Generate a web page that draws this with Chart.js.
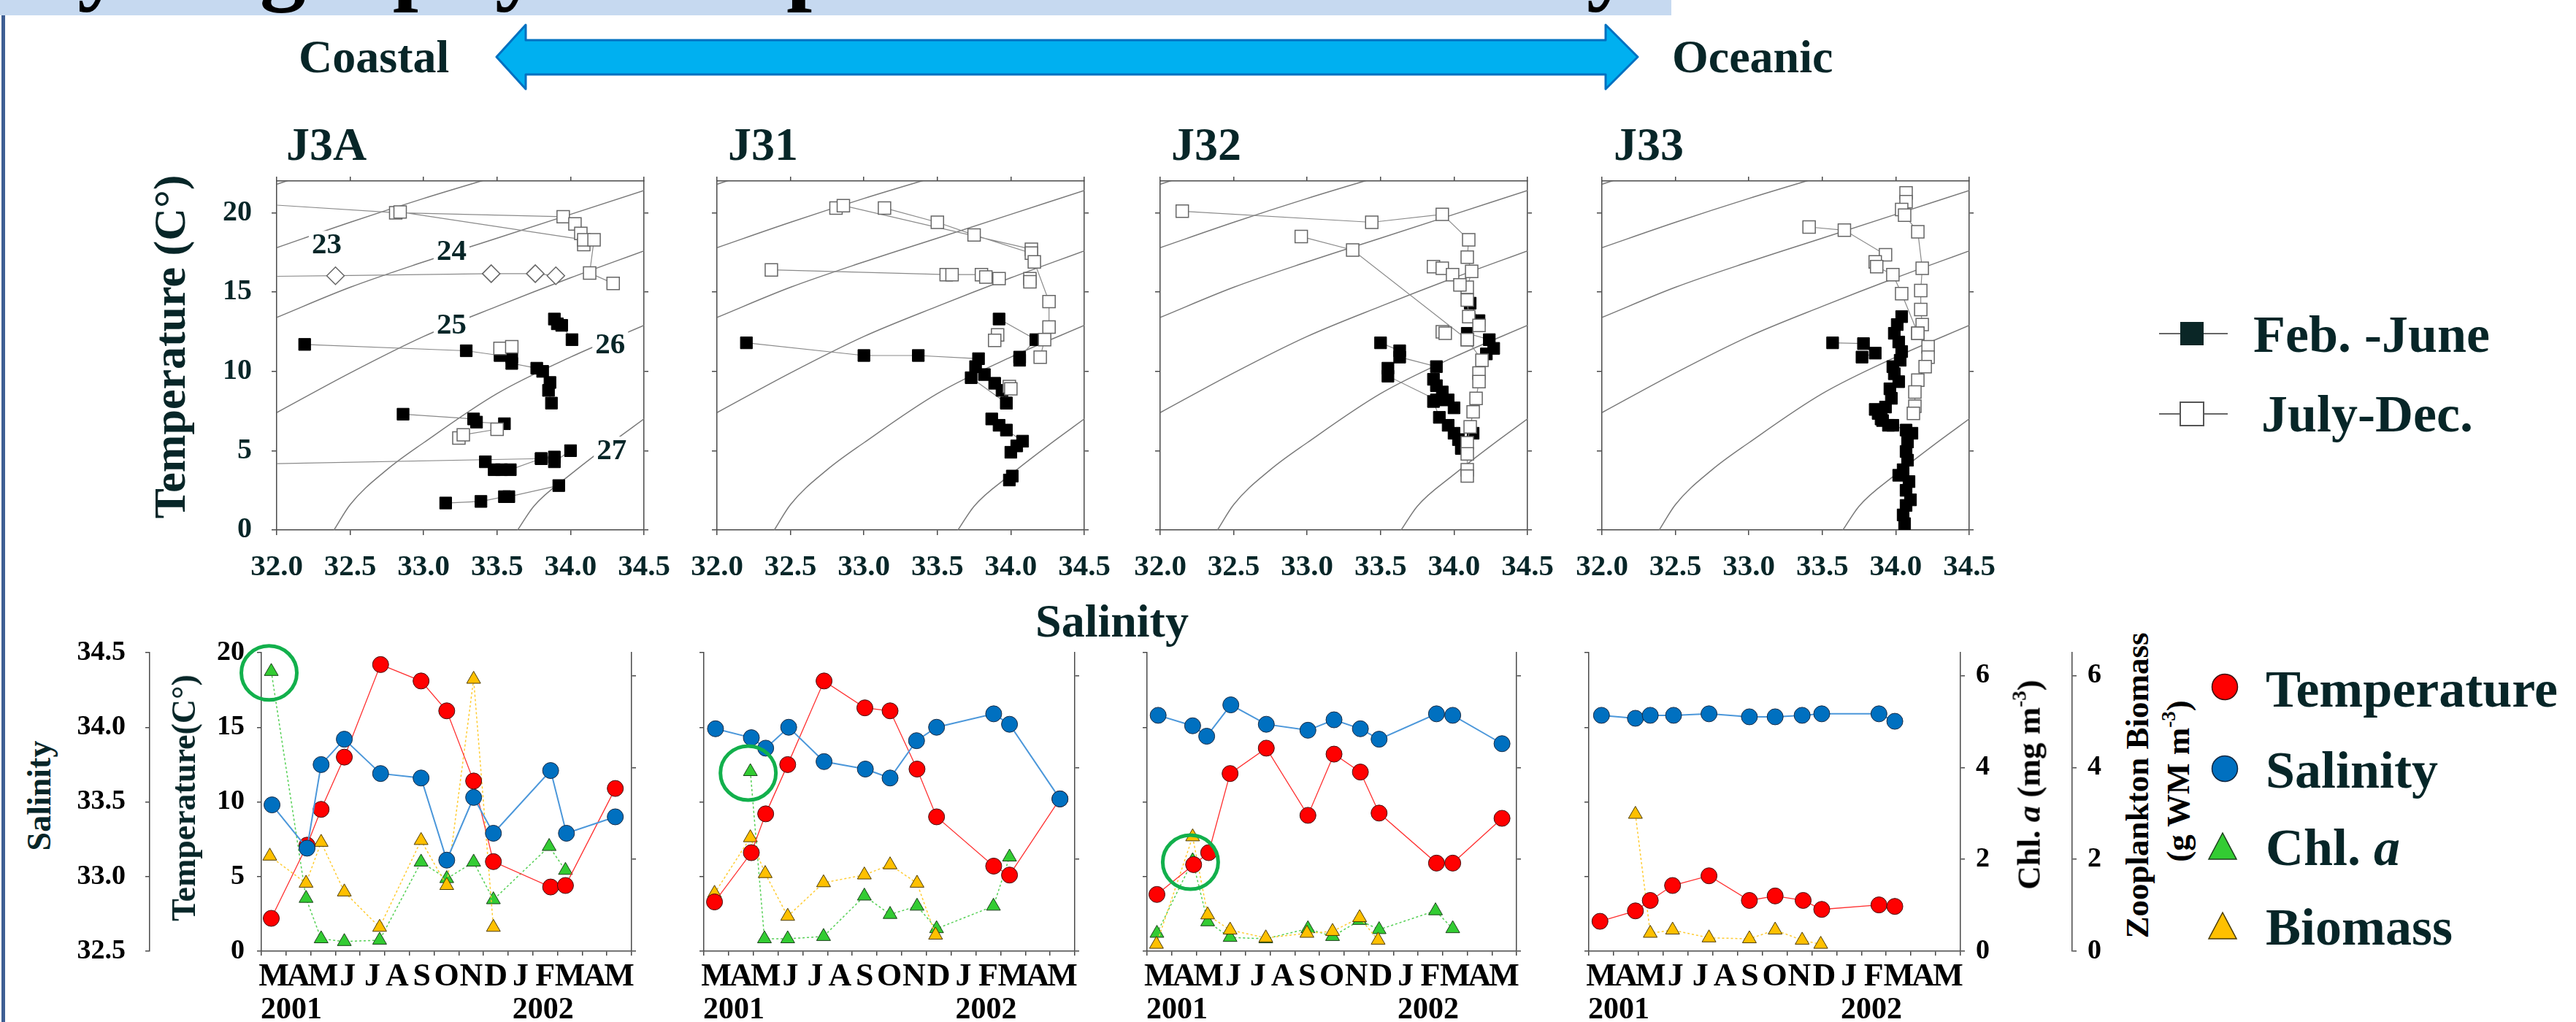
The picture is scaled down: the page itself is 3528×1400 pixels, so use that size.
<!DOCTYPE html>
<html>
<head>
<meta charset="utf-8">
<title>T-S diagrams and seasonal cycle, stations J3A-J33</title>
<script src="https://cdn.jsdelivr.net/npm/chart.js@4.4.1/dist/chart.umd.min.js"></script>
<style>
  html, body { margin: 0; padding: 0; background: #fff; }
  body { position: relative; width: 3528px; height: 1400px; overflow: hidden;
         font-family: 'Liberation Serif', 'Times New Roman', serif; font-weight: bold; color: #072628; }
  canvas { position: absolute; }
  .t { position: absolute; white-space: nowrap; line-height: 1; }
  #band { position: absolute; left: 0; top: 0; width: 2289px; height: 21px; background: #c6d9f0; overflow: hidden; }
  #edge { position: absolute; left: 2px; top: 21px; width: 5px; height: 1379px; background: #3f5f94; }
  svg { position: absolute; left: 0; top: 0; }
</style>
</head>
<body>
<div id="band"><div class="t" style="left:8px;top:-115px;font-size:126px;color:#000;word-spacing:35px">Hydrography and plankton community</div></div>
<div id="edge"></div>
<svg width="3528" height="1400">
  <polygon points="680,78 720,34 720,55 2199,55 2199,34 2243,78 2199,122 2199,102 720,102 720,122"
           fill="#00b0f0" stroke="#0070c0" stroke-width="3" stroke-linejoin="round"/>
  <line x1="2957" y1="457" x2="3051" y2="457" stroke="#666" stroke-width="2"/>
  <rect x="2986" y="441" width="32" height="32" fill="#0a2626"/>
  <line x1="2957" y1="567" x2="3051" y2="567" stroke="#666" stroke-width="2"/>
  <rect x="2986" y="551" width="32" height="32" fill="#fff" stroke="#555" stroke-width="2"/>
  <circle cx="3047" cy="941" r="17.5" fill="#ff0000" stroke="#3a1010" stroke-width="1.5"/>
  <circle cx="3047" cy="1053" r="17.5" fill="#0070c0" stroke="#10263f" stroke-width="1.5"/>
  <polygon points="3044,1141 3025,1177 3063,1177" fill="#33cc33" stroke="#1d3d1d" stroke-width="1.5"/>
  <polygon points="3044,1250 3025,1286 3063,1286" fill="#ffc000" stroke="#4a3a00" stroke-width="1.5"/>
</svg>

<script>
const FAM = "'Liberation Serif', 'Times New Roman', serif";
const INK = '#072628';
Chart.defaults.font.family = FAM;
Chart.defaults.font.weight = 'bold';

// ---------- T-S diagrams: [salinity, temperature] ----------
// sigma-t isopycnals
const iso22 = [[31.9, 21.5], [32.4, 23.0]];
const iso23 = [[32.0, 17.8], [32.5, 19.4], [33.0, 20.9], [33.5, 22.3]];
const iso24 = [[32.0, 13.4], [32.5, 15.3], [33.0, 16.9], [33.5, 18.4], [34.0, 19.9], [34.5, 21.4]];
const iso25 = [[32.0, 7.4], [32.5, 9.9], [33.0, 12.2], [33.5, 14.1], [34.0, 15.9], [34.5, 17.6]];
const iso26 = [[32.39, 0], [32.5, 1.6], [32.75, 3.8], [33.0, 5.5], [33.5, 8.6], [34.0, 10.9], [34.5, 12.9]];
const iso27 = [[33.64, 0], [33.75, 1.5], [34.0, 3.5], [34.25, 5.3], [34.5, 7.0]];
const isoLines = [iso22, iso23, iso24, iso25, iso26, iso27];
const isoLabels = [[32.34, 18.03, '23'], [33.19, 17.59, '24'], [33.19, 12.97, '25'], [34.27, 11.73, '26'], [34.28, 5.06, '27']];

const j3aFeb = [
  [[32.19, 11.7], [33.29, 11.3], [33.52, 11.0], [33.60, 10.9], [33.60, 10.5], [33.77, 10.2], [33.81, 10.0], [33.86, 9.3], [33.85, 8.8], [33.87, 8.0]],
  [[33.89, 13.3], [33.91, 13.0], [33.94, 12.9], [34.01, 12.0]],
  [[32.86, 7.3], [33.34, 7.0], [33.36, 6.8], [33.55, 6.7]],
  [[31.50, 4.1], [33.80, 4.5], [33.89, 4.6], [33.89, 4.3], [34.00, 5.0]],
  [[33.42, 4.3], [33.48, 3.8], [33.53, 3.8], [33.59, 3.8], [33.80, 4.5]],
  [[33.15, 1.7], [33.39, 1.8], [33.55, 2.1], [33.58, 2.1], [33.92, 2.8]]
];
const j3aJul = [
  [[31.80, 20.6], [32.81, 20.0], [33.95, 19.75], [34.03, 19.3], [34.07, 18.7], [34.09, 18.0]],
  [[32.84, 20.05], [34.09, 18.3], [34.16, 18.3], [34.13, 16.2], [34.29, 15.55]],
  [[33.52, 11.45], [33.60, 11.55]],
  [[33.24, 5.8], [33.27, 6.0], [33.50, 6.35]]
];
const j3aDiamond = [[[31.50, 15.95], [32.40, 16.03], [33.46, 16.16], [33.76, 16.16], [33.90, 16.03]]];

const j31Feb = [
  [[32.20, 11.8], [33.00, 11.0], [33.37, 11.0], [33.78, 10.8], [33.73, 9.6], [33.97, 8.0]],
  [[33.76, 10.3], [33.82, 9.8], [33.89, 9.25], [33.94, 8.8], [33.97, 8.0]],
  [[33.87, 7.0], [33.92, 6.6], [33.97, 6.3], [34.08, 5.6], [34.04, 5.3], [34.00, 4.9]],
  [[34.01, 3.4], [33.99, 3.15]],
  [[33.92, 13.3], [34.17, 12.0], [34.06, 10.9], [34.06, 10.7]]
];
const j31Jul = [
  [[32.81, 20.3], [32.86, 20.45], [34.14, 17.7]],
  [[33.14, 20.3], [33.50, 19.4], [33.75, 18.6], [34.14, 17.45], [34.16, 16.9], [34.26, 14.4], [34.26, 12.8], [34.23, 12.0], [34.20, 10.9]],
  [[32.37, 16.4], [33.56, 16.1], [33.60, 16.1], [33.80, 16.1], [33.83, 15.95], [33.92, 15.85]],
  [[34.13, 15.85], [34.13, 15.65]],
  [[33.91, 12.3], [33.89, 11.95]],
  [[33.99, 9.05], [34.00, 8.9]]
];

const j32Feb = [
  [[33.50, 11.8], [33.63, 11.3], [33.63, 10.9], [33.88, 10.3], [33.86, 9.5], [33.88, 9.1], [33.92, 8.7], [33.96, 8.2], [34.00, 7.7]],
  [[33.55, 10.2], [33.55, 9.7], [33.88, 8.2]],
  [[33.86, 8.1], [33.90, 7.1], [33.96, 6.6], [34.00, 6.1], [34.03, 5.7], [34.05, 5.15]],
  [[34.13, 6.1], [34.05, 5.15]],
  [[34.11, 14.3], [34.17, 13.2], [34.09, 12.4], [34.24, 12.0], [34.27, 11.45], [34.22, 11.1]]
];
const j32Jul = [
  [[32.15, 20.1], [33.44, 19.4], [33.92, 19.9], [34.10, 18.3], [34.09, 17.2], [34.12, 16.3], [34.09, 15.3], [34.09, 14.5], [34.10, 13.45], [34.17, 12.9],
   [34.09, 12.0], [34.19, 10.7], [34.17, 9.9], [34.17, 9.35], [34.15, 8.3], [34.13, 7.45], [34.11, 6.5], [34.09, 5.5], [34.09, 4.8], [34.09, 3.8], [34.09, 3.4]],
  [[32.96, 18.5], [33.31, 17.65], [34.09, 12.0]],
  [[33.86, 16.6], [33.92, 16.5], [33.99, 16.1], [34.04, 15.45]],
  [[33.92, 12.5], [33.94, 12.4]]
];

const j33Feb = [
  [[33.57, 11.8], [33.78, 11.75], [33.86, 11.15], [33.77, 10.9]],
  [[34.04, 13.45], [34.01, 12.95], [33.99, 12.4], [34.02, 11.85], [34.04, 11.25], [34.03, 10.7], [33.98, 10.3], [33.99, 9.85], [34.02, 9.35], [33.96, 8.9],
   [33.97, 8.3], [33.93, 7.75], [33.88, 7.35], [33.91, 6.9], [33.98, 6.6], [34.07, 6.3], [34.11, 6.1], [34.08, 5.55], [34.07, 4.95], [34.08, 4.4],
   [34.05, 3.8], [34.02, 3.45], [34.09, 3.05], [34.07, 2.5], [34.10, 1.9], [34.07, 1.55], [34.05, 0.95], [34.06, 0.4]],
  [[33.86, 7.6], [33.90, 7.0], [33.95, 6.6]]
];
const j33Jul = [
  [[34.07, 21.25], [34.07, 20.7], [34.04, 20.2], [34.06, 19.85], [34.15, 18.8], [34.18, 16.5], [34.17, 15.1], [34.17, 13.9], [34.18, 12.95], [34.15, 12.4],
   [34.22, 11.55], [34.22, 10.9], [34.20, 10.3], [34.15, 9.45], [34.13, 8.7], [34.13, 7.8], [34.12, 7.35]],
  [[33.41, 19.1], [33.65, 18.9], [33.93, 17.35], [33.86, 16.9], [33.87, 16.6], [33.98, 16.1], [34.04, 14.9], [34.15, 12.4]]
];

// ---------- seasonal panels: [month from 1 Mar 2001, value] ----------
const months = ['M', 'A', 'M', 'J', 'J', 'A', 'S', 'O', 'N', 'D', 'J', 'F', 'M', 'A', 'M'];
const years = [[0, '2001'], [10.2, '2002']];

const tempJ3A = [[0.40, 2.2], [1.85, 7.1], [2.42, 9.5], [3.36, 13.0], [4.83, 19.2], [6.47, 18.1], [7.51, 16.1], [8.60, 11.4], [9.40, 6.0], [11.72, 4.3], [12.32, 4.4], [14.34, 10.9]];
const salJ3A  = [[0.43, 33.48], [1.85, 33.19], [2.42, 33.75], [3.36, 33.92], [4.83, 33.69], [6.47, 33.66], [7.51, 33.11], [8.60, 33.53], [9.40, 33.29], [11.72, 33.71], [12.36, 33.29], [14.34, 33.40]];
const chlJ3A  = [[0.40, 6.09], [1.81, 1.15], [2.42, 0.27], [3.36, 0.21], [4.79, 0.24], [6.47, 1.94], [7.51, 1.58], [8.60, 1.94], [9.40, 1.12], [11.66, 2.28], [12.32, 1.76]];
const bioJ3A  = [[0.34, 2.07], [1.81, 1.48], [2.42, 2.37], [3.36, 1.29], [4.79, 0.52], [6.47, 2.41], [7.51, 1.43], [8.60, 5.92], [9.40, 0.52]];

const tempJ31 = [[0.43, 3.3], [1.92, 6.6], [2.50, 9.2], [3.39, 12.5], [4.86, 18.1], [6.51, 16.3], [7.53, 16.1], [8.62, 12.2], [9.41, 9.0], [11.72, 5.7], [12.36, 5.1], [14.40, 10.2]];
const salJ31  = [[0.47, 33.99], [1.92, 33.93], [2.50, 33.86], [3.43, 34.00], [4.86, 33.77], [6.53, 33.72], [7.53, 33.66], [8.60, 33.91], [9.41, 34.00], [11.72, 34.09], [12.36, 34.02], [14.40, 33.52]];
const chlJ31  = [[1.88, 3.91], [2.45, 0.27], [3.39, 0.27], [4.84, 0.32], [6.49, 1.20], [7.53, 0.80], [8.62, 0.98], [9.41, 0.49], [11.71, 0.98], [12.36, 2.05]];
const bioJ31  = [[0.43, 1.26], [1.88, 2.47], [2.48, 1.69], [3.39, 0.76], [4.84, 1.49], [6.49, 1.66], [7.53, 1.88], [8.62, 1.48], [9.37, 0.35]];

const tempJ32 = [[0.40, 3.8], [1.89, 5.8], [2.50, 6.6], [3.37, 11.9], [4.84, 13.6], [6.53, 9.1], [7.59, 13.2], [8.66, 12.0], [9.42, 9.25], [11.75, 5.9], [12.41, 5.9], [14.41, 8.9]];
const salJ32  = [[0.45, 34.08], [1.85, 34.01], [2.42, 33.94], [3.40, 34.15], [4.84, 34.02], [6.53, 33.98], [7.59, 34.05], [8.66, 33.99], [9.42, 33.92], [11.75, 34.09], [12.41, 34.08], [14.41, 33.89]];
const chlJ32  = [[0.40, 0.39], [1.85, 1.97], [2.46, 0.64], [3.37, 0.30], [4.82, 0.27], [6.53, 0.49], [7.53, 0.32], [8.63, 0.67], [9.42, 0.47], [11.71, 0.88], [12.41, 0.49]];
const bioJ32  = [[0.38, 0.15], [1.85, 2.49], [2.46, 0.79], [3.37, 0.46], [4.82, 0.29], [6.49, 0.39], [7.53, 0.43], [8.63, 0.73], [9.38, 0.24]];

const tempJ33 = [[0.45, 2.0], [1.88, 2.7], [2.48, 3.4], [3.38, 4.4], [4.85, 5.05], [6.48, 3.4], [7.52, 3.7], [8.65, 3.4], [9.40, 2.8], [11.71, 3.1], [12.35, 3.0]];
const salJ33  = [[0.51, 34.08], [1.88, 34.06], [2.48, 34.08], [3.42, 34.08], [4.85, 34.09], [6.48, 34.07], [7.52, 34.07], [8.61, 34.08], [9.40, 34.09], [11.71, 34.09], [12.35, 34.04]];
const chlJ33  = [];
const bioJ33  = [[1.88, 2.98], [2.48, 0.39], [3.38, 0.46], [4.85, 0.29], [6.48, 0.27], [7.52, 0.46], [8.61, 0.24], [9.36, 0.15]];

// ---------- helpers ----------
const xy = arr => arr.map(([x, y]) => ({ x, y }));
function prof(list) {
  const out = [];
  list.forEach((p, i) => { if (i) out.push({ x: null, y: null }); p.forEach(([x, y]) => out.push({ x, y })); });
  return out;
}
function addCanvas(x, y, w, h) {
  const c = document.createElement('canvas');
  c.width = w; c.height = h;
  c.style.left = x + 'px'; c.style.top = y + 'px';
  c.style.width = w + 'px'; c.style.height = h + 'px';
  document.body.appendChild(c);
  return c;
}
function txt(html, x, base, size, o = {}) {
  const d = document.createElement('div');
  d.className = 't';
  d.innerHTML = html;
  d.style.fontSize = size + 'px';
  d.style.left = x + 'px';
  d.style.top = (base - 0.8375 * size) + 'px';
  if (o.center) d.style.transform = 'translateX(-50%)';
  if (o.color) d.style.color = o.color;
  document.body.appendChild(d);
}
function vtxt(html, baseX, cy, size, o = {}) {
  const d = document.createElement('div');
  d.className = 't';
  d.innerHTML = html;
  d.style.fontSize = size + 'px';
  d.style.left = (baseX - 0.3375 * size) + 'px';
  d.style.top = cy + 'px';
  d.style.transform = 'translate(-50%, -50%) rotate(-90deg)';
  if (o.color) d.style.color = o.color;
  document.body.appendChild(d);
}
// force axis box sizes so plot areas land where the figure has them
const fix = (w, h) => s => {
  if (w != null) s.width = w;
  if (h != null) s.height = h;
  s.paddingTop = s.paddingBottom = s.paddingLeft = s.paddingRight = 0;
};
const gridOpt = len => ({ drawOnChartArea: false, color: '#4a4a4a', tickLength: len, lineWidth: 1.5 });
const borderOpt = { color: '#4a4a4a', width: 1.5 };

const extras = {
  id: 'extras',
  afterDatasetsDraw(chart, _a, o) {
    const ctx = chart.ctx;
    if (o.ring) {
      const p = chart.getDatasetMeta(o.ring[0]).data[o.ring[1]];
      ctx.save();
      ctx.strokeStyle = '#12b04c';
      ctx.lineWidth = 5;
      ctx.beginPath();
      ctx.ellipse(p.x - 3, p.y + 2, 38, 37, 0, 0, 2 * Math.PI);
      ctx.stroke();
      ctx.restore();
    }
    if (o.isoLabels) {
      const sx = chart.scales.x, sy = chart.scales.y;
      ctx.save();
      ctx.font = 'bold 41px ' + FAM;
      ctx.textAlign = 'center';
      ctx.textBaseline = 'middle';
      o.isoLabels.forEach(([s, t, label]) => {
        const x = sx.getPixelForValue(s), y = sy.getPixelForValue(t);
        const w = ctx.measureText(label).width + 8;
        ctx.fillStyle = '#fff';
        ctx.fillRect(x - w / 2, y - 18, w, 36);
        ctx.fillStyle = INK;
        ctx.fillText(label, x, y + 2);
      });
      ctx.restore();
    }
  },
  afterDraw(chart, _a, o) {
    if (!o.years) return;
    const ctx = chart.ctx, sx = chart.scales.x;
    ctx.save();
    ctx.font = 'bold 42px ' + FAM;
    ctx.fillStyle = '#000';
    ctx.textAlign = 'left';
    ctx.textBaseline = 'alphabetic';
    o.years.forEach(([v, label]) => ctx.fillText(label, sx.getPixelForValue(v) - 1, o.yearBase));
    ctx.restore();
  }
};

// ---------- T-S charts ----------
function tsChart(plotLeft, showY, feb, jul, diamond, labels) {
  const padL = showY ? 80 : 45, padR = 45, plotW = 503;
  const cv = addCanvas(plotLeft - padL, 230, padL + plotW + padR, 576);
  const base = { showLine: true, borderColor: '#8a8a8a', borderWidth: 1.2 };
  const datasets = [
    Object.assign({ data: prof(jul), pointStyle: 'rect', pointRadius: 12, pointBackgroundColor: '#fff', pointBorderColor: '#666', pointBorderWidth: 1.5, order: 0 }, base),
    Object.assign({ data: prof(diamond), pointStyle: 'rectRot', pointRadius: 12, pointBackgroundColor: '#fff', pointBorderColor: '#666', pointBorderWidth: 1.5, order: 0 }, base),
    Object.assign({ data: prof(feb), pointStyle: 'rect', pointRadius: 11.5, pointBackgroundColor: '#000', pointBorderColor: '#000', pointBorderWidth: 1, order: 1 }, base)
  ];
  isoLines.forEach(l => datasets.push({
    data: xy(l), showLine: true, borderColor: '#7a7a7a', borderWidth: 1.5, pointRadius: 0,
    cubicInterpolationMode: 'monotone', order: 3
  }));
  new Chart(cv, {
    type: 'scatter',
    data: { datasets },
    plugins: [extras],
    options: {
      responsive: false, animation: false, devicePixelRatio: 1, events: [],
      layout: { padding: 0 },
      plugins: { legend: { display: false }, tooltip: { enabled: false }, extras: { isoLabels: labels } },
      scales: {
        x: { type: 'linear', position: 'bottom', min: 32, max: 34.5,
             ticks: { stepSize: 0.5, callback: v => v.toFixed(1), color: INK, font: { size: 41 }, padding: 20, maxRotation: 0, autoSkip: false },
             grid: gridOpt(7), border: borderOpt, afterFit: fix(null, 80) },
        xt: { type: 'linear', position: 'top', min: 32, max: 34.5,
              ticks: { stepSize: 0.5, display: false }, grid: gridOpt(6), border: borderOpt, afterFit: fix(null, 18) },
        y: { type: 'linear', position: 'left', min: 0, max: 22,
             ticks: { stepSize: 5, includeBounds: false, display: showY, color: INK, font: { size: 40 }, padding: 27 },
             grid: gridOpt(7), border: borderOpt, afterFit: fix(padL, null) },
        yr: { type: 'linear', position: 'right', min: 0, max: 22,
              ticks: { stepSize: 5, includeBounds: false, display: false },
              grid: gridOpt(6), border: borderOpt, afterFit: fix(padR, null) }
      }
    }
  });
}

tsChart(379, true, j3aFeb, j3aJul, j3aDiamond, isoLabels);
tsChart(982, false, j31Feb, j31Jul, [], null);
tsChart(1589, false, j32Feb, j32Jul, [], null);
tsChart(2194, false, j33Feb, j33Jul, [], null);

// ---------- seasonal charts ----------
const monthTicks = Array.from({ length: months.length * 2 + 1 }, (_, i) => i / 2);

function seasonChart(p) {
  const top = 860, h = 540;
  const leftW = p.tW + (p.sW || 0), rightW = p.cW + (p.bW || 0);
  const cv = addCanvas(p.left, top, leftW + p.plotW + rightW, h);
  const datasets = [
    { data: xy(p.sal), yAxisID: 'yS', borderColor: '#4b97da', borderWidth: 2, pointBackgroundColor: '#0070c0', pointBorderColor: '#1a2c44', pointRadius: 11 },
    { data: xy(p.temp), yAxisID: 'yT', borderColor: '#ff3030', borderWidth: 1.3, pointBackgroundColor: '#ff0000', pointBorderColor: '#401010', pointRadius: 11 },
    { data: xy(p.bio), yAxisID: 'yB', borderColor: '#ffcc33', borderWidth: 1.5, borderDash: [3, 3], pointStyle: 'triangle', pointBackgroundColor: '#ffc000', pointBorderColor: '#4d3b00', pointRadius: 11 },
    { data: xy(p.chl), yAxisID: 'yC', borderColor: '#55d055', borderWidth: 1.5, borderDash: [3, 3], pointStyle: 'triangle', pointBackgroundColor: '#33cc33', pointBorderColor: '#1a401a', pointRadius: 11 }
  ].map(d => Object.assign({ showLine: true, xAxisID: 'x', pointBorderWidth: 1 }, d));
  const lab = { color: '#000', font: { size: 38 } };
  new Chart(cv, {
    type: 'scatter',
    data: { datasets },
    plugins: [extras],
    options: {
      responsive: false, animation: false, devicePixelRatio: 1, events: [],
      layout: { padding: { top: 34, left: 0, right: 0, bottom: 0 } },
      plugins: { legend: { display: false }, tooltip: { enabled: false },
                 extras: { ring: p.ring, years, yearBase: 1395 - top } },
      scales: {
        x: { type: 'linear', position: 'bottom', min: 0, max: months.length,
             afterBuildTicks: s => { s.ticks = monthTicks.map(v => ({ value: v })); },
             ticks: { autoSkip: false, maxRotation: 0, minRotation: 0, padding: 3, color: '#000', font: { size: 44 },
                      callback: v => (v % 1 ? months[Math.floor(v)] : '') },
             grid: { drawOnChartArea: false, tickLength: 6, lineWidth: 1.5,
                     color: c => (c.tick && c.tick.value % 1) ? 'rgba(0,0,0,0)' : '#444' },
             border: borderOpt, afterFit: fix(null, h - (1303 - top)) },
        yT: { type: 'linear', position: 'left', weight: 0, min: 0, max: 20,
              ticks: Object.assign({ stepSize: 5, display: !!p.sW, padding: 17 }, lab),
              grid: gridOpt(6), border: borderOpt, afterFit: fix(p.tW, null) },
        yS: { type: 'linear', position: 'left', weight: 1, display: !!p.sW, min: 32.5, max: 34.5,
              ticks: Object.assign({ stepSize: 0.5, callback: v => v.toFixed(1), padding: 27 }, lab),
              grid: gridOpt(6), border: borderOpt, afterFit: fix(p.sW || 0, null) },
        yC: { type: 'linear', position: 'right', weight: 0, min: 0, max: 6.5,
              ticks: Object.assign({ stepSize: 2, includeBounds: false, display: !!p.bW, padding: 15 }, lab),
              grid: gridOpt(6), border: borderOpt, afterFit: fix(p.cW, null) },
        yB: { type: 'linear', position: 'right', weight: 1, display: !!p.bW, min: 0, max: 6.5,
              ticks: Object.assign({ stepSize: 2, includeBounds: false, padding: 15 }, lab),
              grid: gridOpt(6), border: borderOpt, afterFit: fix(p.bW || 0, null) }
      }
    }
  });
}

seasonChart({ left: 90, sW: 115, tW: 153, plotW: 507, cW: 20, temp: tempJ3A, sal: salJ3A, chl: chlJ3A, bio: bioJ3A, ring: [3, 0] });
seasonChart({ left: 944, tW: 20, plotW: 508, cW: 20, temp: tempJ31, sal: salJ31, chl: chlJ31, bio: bioJ31, ring: [3, 0] });
seasonChart({ left: 1551, tW: 20, plotW: 506, cW: 20, temp: tempJ32, sal: salJ32, chl: chlJ32, bio: bioJ32, ring: [3, 1] });
seasonChart({ left: 2156, tW: 20, plotW: 509, cW: 153, bW: 62, temp: tempJ33, sal: salJ33, chl: chlJ33, bio: bioJ33, ring: null });

// ---------- text ----------
txt('Coastal', 409, 100, 64);
txt('Oceanic', 2290, 100, 64);
txt('J3A', 392, 220, 64);
txt('J31', 997, 220, 64);
txt('J32', 1604, 220, 64);
txt('J33', 2210, 220, 64);
vtxt('Temperature (C°)', 253, 475, 62);
txt('Salinity', 1523, 873, 64, { center: true });
txt('Feb. -June', 3086, 482, 72);
txt('July-Dec.', 3097, 591, 72);

vtxt('Salinity', 70, 1090, 46);
vtxt('Temperature(C°)', 268, 1093, 46);
const sup = s => '<span style="font-size:60%;position:relative;top:-0.7em">' + s + '</span>';
vtxt('Chl. <i>a</i> (mg m' + sup('-3') + ')', 2794, 1075, 45, { color: '#000' });
vtxt('Zooplankton Biomass', 2942, 1076, 45, { color: '#000' });
vtxt('(g WM m' + sup('-3') + ')', 2998, 1070, 45, { color: '#000' });

txt('Temperature', 3103, 968, 72);
txt('Salinity', 3103, 1079, 72);
txt('Chl. <i>a</i>', 3103, 1185, 72);
txt('Biomass', 3103, 1294, 72);
</script>
</body>
</html>
